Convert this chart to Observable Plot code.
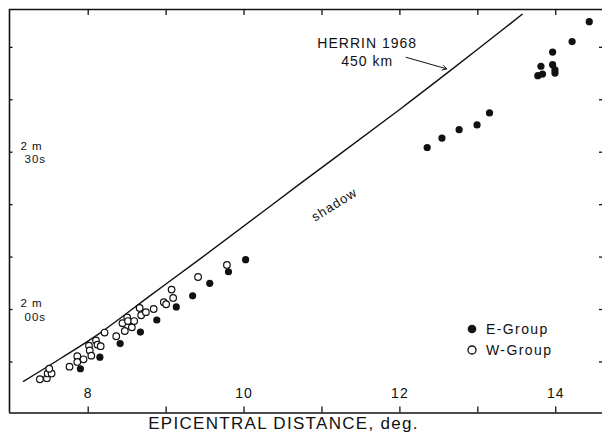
<!DOCTYPE html>
<html>
<head>
<meta charset="utf-8">
<script src="https://cdn.jsdelivr.net/npm/d3@7"></script>
<script src="https://cdn.jsdelivr.net/npm/@observablehq/plot@0.6"></script>
<style>
  html, body { margin: 0; padding: 0; background: #fff; }
  #chart { position: relative; width: 602px; height: 440px; font-family: "Liberation Sans", Arial, sans-serif; }
  #chart svg text { letter-spacing: 1px; }
  .legend { position: absolute; left: 466px; top: 319px; font-size: 14px; letter-spacing: 1.4px; color: #111; }
  .legend .row { display: flex; align-items: center; height: 20.5px; }
  .legend svg { margin-right: 8px; }
</style>
</head>
<body>
<div id="chart"></div>
<script>
// E-Group arrivals: epicentral distance (deg) and travel time (s)
const eDist = [7.90, 8.15, 8.41, 8.67, 8.88, 9.13, 9.34, 9.56, 9.80, 10.02,
               12.35, 12.54, 12.76, 12.99, 13.15,
               13.77, 13.83, 13.81, 13.96, 13.96, 13.99, 13.99, 14.21, 14.43];
const eTime = [108.7, 110.9, 113.5, 115.7, 118.0, 120.5, 122.6, 125.0, 127.2, 129.5,
               150.9, 152.7, 154.3, 155.2, 157.5,
               164.6, 164.9, 166.4, 166.7, 169.1, 165.7, 165.1, 171.1, 174.9];

// W-Group arrivals
const wDist = [7.38, 7.47, 7.48, 7.53, 7.50, 7.76, 7.86, 7.86, 7.94, 8.01,
               8.02, 8.04, 8.10, 8.12, 8.16, 8.21, 8.36, 8.44, 8.47, 8.50,
               8.51, 8.56, 8.59, 8.66, 8.68, 8.74, 8.84, 8.97, 9.00, 9.07,
               9.09, 9.41, 9.78];
const wTime = [106.7, 106.9, 107.8, 107.8, 108.7, 109.1, 111.1, 110.0, 110.5, 113.1,
               112.2, 111.2, 114.1, 113.3, 113.0, 115.6, 114.9, 117.4, 115.9, 118.5,
               117.8, 116.6, 117.8, 120.3, 118.9, 119.5, 120.1, 121.4, 121.0, 123.8,
               122.2, 126.2, 128.5];

// Herrin (1968) travel-time curve for a 450 km focal depth
const herrinDist = [7.17, 7.65, 8.16, 8.80, 9.44, 10.72, 12.01, 12.65, 13.57];
const herrinTime = [106.3, 110.7, 115.6, 122.7, 129.7, 144.0, 158.3, 165.6, 176.3];

// Axes
const xDomain = [6.99, 14.60];
const yDomain = [100.26, 177.22];
const xTicks = [8, 9, 10, 11, 12, 13, 14];
const xTickLabels = [8, 10, 12, 14];
const yTicks = [110, 120, 130, 140, 150, 160, 170];
const yLabelTimes = [150, 120];
const yLabelMin = ["2 m", "2 m"];
const yLabelSec = ["30s", "00s"];
const xTitle = "EPICENTRAL DISTANCE, deg.";

// Annotations (data coordinates)
const herrinLabel = ["HERRIN 1968\n450 km"];
const herrinLabelDist = [11.58];
const herrinLabelTime = [169.2];
const arrowDist = [12.08, 12.60];
const arrowTime = [168.1, 165.9];
const shadowLabel = ["shadow"];
const shadowDist = [11.16];
const shadowTime = [140.0];

const legendItems = [
  { label: "E-Group", filled: true },
  { label: "W-Group", filled: false }
];

const W = 602, H = 440;
const mL = 9, mR = 0, mT = 9, mB = 27.5;
const frameW = W - mL - mR, frameH = H - mT - mB;
const ink = "#111";

const chart = Plot.plot({
  width: W,
  height: H,
  marginLeft: mL,
  marginRight: mR,
  marginTop: mT,
  marginBottom: mB,
  x: { domain: xDomain, axis: null },
  y: { domain: yDomain, axis: null },
  style: { fontFamily: "Liberation Sans, Arial, sans-serif", color: ink, background: "#fff" },
  marks: [
    // border: left, bottom, top
    Plot.ruleX([xDomain[0]], { stroke: ink, strokeWidth: 1.6 }),
    Plot.ruleY([yDomain[0], yDomain[1]], { stroke: ink, strokeWidth: 1.6 }),
    // inward ticks
    Plot.tickX(xTicks, { x: d => d, insetTop: frameH - 6, stroke: ink, strokeWidth: 1.3 }),
    Plot.tickX(xTicks, { x: d => d, insetBottom: frameH - 6, stroke: ink, strokeWidth: 1.3 }),
    Plot.tickY(yTicks, { y: d => d, insetRight: frameW - 3.5, stroke: ink, strokeWidth: 1.3 }),
    Plot.tickY(yTicks, { y: d => d, insetLeft: frameW - 3, stroke: ink, strokeWidth: 1.3 }),
    // tick labels
    Plot.text(xTickLabels, { x: d => d, text: d => String(d), frameAnchor: "bottom", dy: -15.5, fontSize: 14, fill: ink }),
    Plot.text(yLabelTimes, { y: d => d, text: yLabelMin, frameAnchor: "left", textAnchor: "start", dx: 11, dy: -5.8, fontSize: 11.5, fill: ink }),
    Plot.text(yLabelTimes, { y: d => d, text: yLabelSec, frameAnchor: "left", textAnchor: "start", dx: 15, dy: 7.4, fontSize: 11.5, fill: ink }),
    Plot.text([xTitle], { text: d => d, frameAnchor: "bottom", dx: -22.5, dy: 15.5, fontSize: 17, fill: ink }),
    // travel-time curve
    Plot.line(herrinDist, { x: herrinDist, y: herrinTime, curve: "catmull-rom", stroke: ink, strokeWidth: 1.4 }),
    // observations
    Plot.dot(wDist, { x: wDist, y: wTime, r: 3.3, stroke: ink, strokeWidth: 1.2, fill: "#fff" }),
    Plot.dot(eDist, { x: eDist, y: eTime, r: 3.6, fill: ink, stroke: "none" }),
    // annotations
    Plot.text(herrinLabel, { x: herrinLabelDist, y: herrinLabelTime, text: d => d, fontSize: 14, lineHeight: 1.3, fill: ink }),
    Plot.arrow([0], { x1: arrowDist[0], y1: arrowTime[0], x2: arrowDist[1], y2: arrowTime[1], stroke: ink, strokeWidth: 1, headLength: 7 }),
    Plot.text(shadowLabel, { x: shadowDist, y: shadowTime, text: d => d, rotate: -32, fontSize: 13, fill: ink })
  ]
});

// wider lettering for the axis title
d3.select(chart).selectAll("text")
  .filter(function () { return this.textContent === xTitle; })
  .style("letter-spacing", "1.3px");

const root = document.getElementById("chart");
root.appendChild(chart);

// legend
const legend = document.createElement("div");
legend.className = "legend";
for (const item of legendItems) {
  const row = document.createElement("div");
  row.className = "row";
  row.innerHTML =
    `<svg width="12" height="12" viewBox="0 0 12 12"><circle cx="6" cy="6" r="${item.filled ? 4.3 : 4}" ` +
    `fill="${item.filled ? ink : "#fff"}" stroke="${ink}" stroke-width="${item.filled ? 0 : 1.3}"/></svg>` +
    `<span>${item.label}</span>`;
  legend.appendChild(row);
}
root.appendChild(legend);
</script>
</body>
</html>
